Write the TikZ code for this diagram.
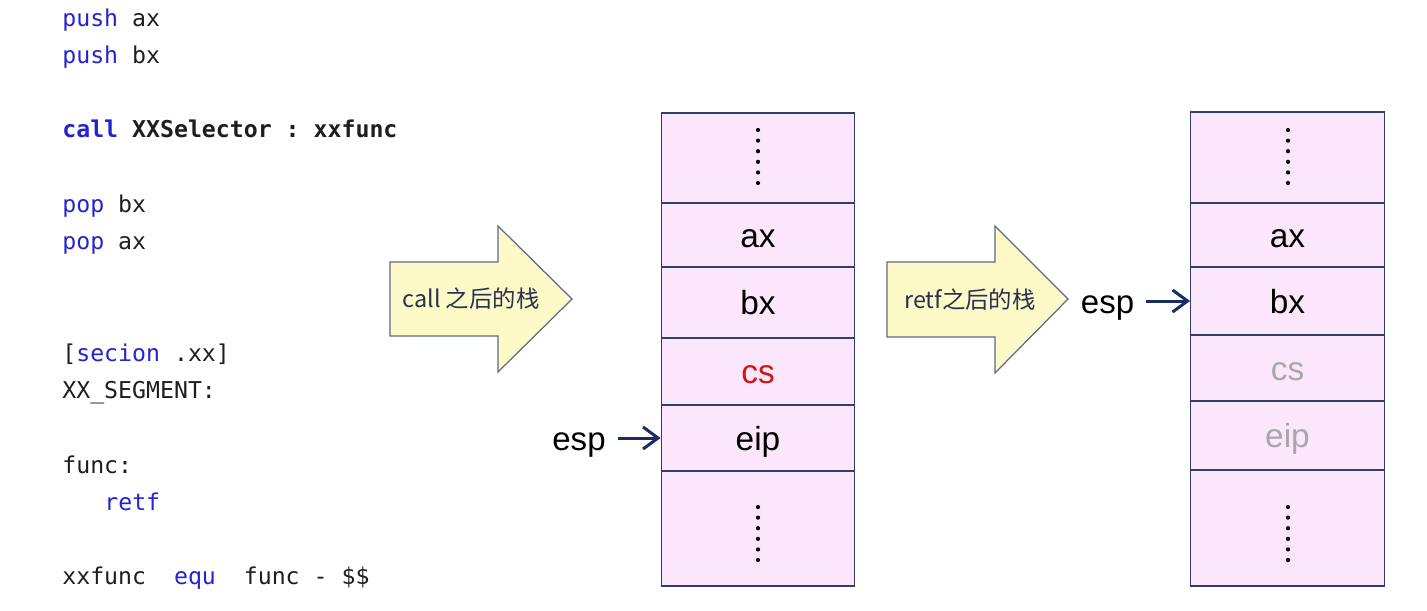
\documentclass[tikz,border=0pt]{standalone}
\usepackage{fontspec}
\setmainfont{Liberation Sans}
\setmonofont{DejaVu Sans Mono}
\newfontfamily\cjk{Noto Sans CJK SC}
\usetikzlibrary{arrows.meta,positioning,calc}
\definecolor{kw}{RGB}{35,35,210}
\definecolor{codetxt}{RGB}{30,30,30}
\definecolor{cellfill}{RGB}{252,230,252}
\definecolor{cellline}{RGB}{50,60,110}
\definecolor{bigfill}{RGB}{253,250,200}
\definecolor{bigline}{RGB}{95,105,135}
\definecolor{tagtxt}{RGB}{40,50,80}
\definecolor{espblue}{RGB}{25,45,100}
\definecolor{faded}{RGB}{168,168,168}
\definecolor{hot}{RGB}{210,20,20}
\newcommand{\kw}[1]{\textcolor{kw}{#1}}

\begin{document}
\begin{tikzpicture}[x=0.02cm,y=-0.02cm,
 code/.style={anchor=base west,inner sep=0pt,text=codetxt,font=\ttfamily\fontsize{13.2}{16}\selectfont},
 cell/.style={draw=cellline,fill=cellfill,line width=0.8pt,minimum width=3.87cm,inner sep=0pt,text height=14pt,text depth=0pt,font=\fontsize{19}{23}\selectfont},
 bigarrow/.style={draw=bigline,fill=bigfill,line width=0.7pt},
 tag/.style={inner sep=0pt,text=tagtxt,font=\cjk\fontsize{13.3}{16}\selectfont},
 espl/.style={inner sep=0pt,text height=14pt,text depth=0pt,font=\fontsize{18.8}{22}\selectfont},
 ptr/.style={espblue,line width=1.7pt,-{Straight Barb[length=3mm,width=4.4mm]}}]
\useasboundingbox (0,0) rectangle (1427,610);
% source listing
\foreach \i/\x/\txt in {0/62/{\kw{push} ax},1/62/{\kw{push} bx},3/62/{\textbf{\kw{call} XXSelector : xxfunc}},5/62/{\kw{pop} bx},6/62/{\kw{pop} ax},9/62/{[\kw{secion} .xx]},10/62/{XX\_SEGMENT:},12/62/{func:},13/104/{\kw{retf}},15/62/{xxfunc\ \ \kw{equ}\ \ func - \$\$}}
 \node[code] (l\i) at (\x,{26+37.25*\i}) {\txt};
% stack after call
\foreach \n/\t/\b/\c/\txt in {top/113/203/black/{},ax/203/267/black/ax,bx/267/338/black/bx,cs/338/405/hot/cs,eip/405/471/black/eip,bot/471/586/black/{}}
 \node[cell,text=\c,minimum height=(\b-\t)*0.02cm] (c\n) at (758,{(\t+\b)/2}) {\txt};
% stack after retf
\foreach \n/\t/\b/\c/\txt in {top/112/203/black/{},ax/203/267/black/ax,bx/267/335/black/bx,cs/335/401/faded/cs,eip/401/470/faded/eip,bot/470/586/black/{}}
 \node[cell,text=\c,minimum height=(\b-\t)*0.02cm] (r\n) at (1287.5,{(\t+\b)/2}) {\txt};
\foreach \x in {758,1288}{\foreach \k in {0,...,5}{
 \fill (\x,{130+10.6*\k}) circle (1.2pt);
 \fill (\x,{507+10.6*\k}) circle (1.2pt);}}
% big arrows
\draw[bigarrow] (390,262)--(498,262)--(498,226)--(572,299)--(498,372)--(498,336)--(390,336)--cycle;
\node[tag] (callt) at (471,299) {call 之后的栈};
\draw[bigarrow] (887,262)--(995,262)--(995,226)--(1068,299)--(995,373)--(995,337)--(887,337)--cycle;
\node[tag] (retft) at (970,300) {retf之后的栈};
% esp
\node[espl] (esp1) at (579,438) {esp};
\draw[ptr] ([xshift=0.24cm]esp1.east)--(ceip.west);
\node[espl] (esp2) at (1107.5,301) {esp};
\draw[ptr] ([xshift=0.24cm]esp2.east)--(rbx.west);
\end{tikzpicture}
\end{document}
